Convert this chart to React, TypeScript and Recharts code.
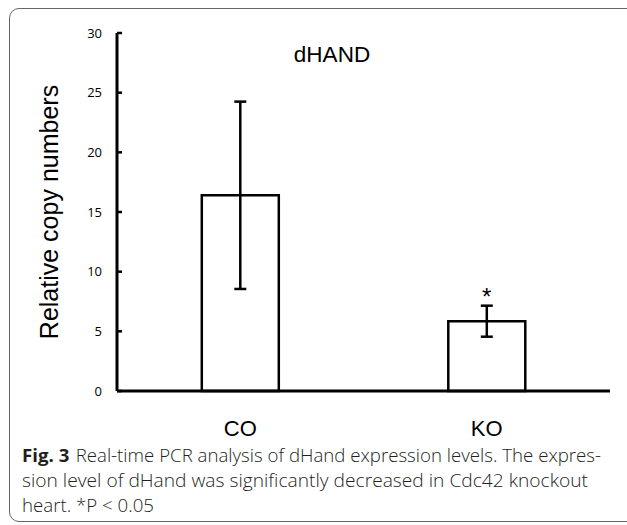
import React from 'react';
import { BarChart, Bar, XAxis, YAxis, ErrorBar, ReferenceDot } from 'recharts';

const categories = ['CO', 'KO'];
const means = [16.4, 5.85];
const errors = [7.85, 1.3];
const marks = ['', '*'];
const yTicks = [0, 5, 10, 15, 20, 25, 30];

const data = categories.map((c, i) => ({ name: c, value: means[i], err: errors[i], mark: marks[i] }));

const sans = '"Liberation Sans", Arial, sans-serif';
const capFont = '"Open Sans", "Noto Sans", sans-serif';

export default function App() {
  return (
    <div style={{ position: 'absolute', left: 0, top: 0, width: 627, height: 525, overflow: 'hidden', background: '#fff' }}>
      <div
        style={{
          position: 'absolute',
          left: 9,
          top: 8,
          width: 660,
          height: 514,
          border: '1.5px solid #666',
          borderRadius: 10,
          boxSizing: 'border-box',
        }}
      />
      <div style={{ position: 'absolute', left: 0, top: 0 }}>
        <BarChart
          width={627}
          height={440}
          data={data}
          margin={{ top: 33, right: 17, left: 57, bottom: 9 }}
          barCategoryGap="34.4%"
        >
          <XAxis
            dataKey="name"
            tickLine={false}
            axisLine={{ stroke: '#000', strokeWidth: 3 }}
            tick={{ fill: '#000', fontSize: 22, fontFamily: sans }}
            tickSize={6}
            tickMargin={23}
            height={40}
          />
          <YAxis
            type="number"
            domain={[0, 30]}
            ticks={yTicks}
            width={60}
            axisLine={{ stroke: '#000', strokeWidth: 3 }}
            tickLine={{ stroke: '#000', strokeWidth: 2.5 }}
            tickSize={-5}
            tickMargin={20}
            tick={{ fill: '#000', fontSize: 13, fontFamily: capFont }}
            interval={0}
          />
          <Bar dataKey="value" fill="#fff" stroke="#000" strokeWidth={2.5} isAnimationActive={false}>
            <ErrorBar dataKey="err" direction="y" width={6} stroke="#000" strokeWidth={2.5} isAnimationActive={false} />
          </Bar>
          {data
            .filter((d) => d.mark)
            .map((d) => (
              <ReferenceDot
                key={d.name}
                x={d.name}
                y={d.value + d.err}
                r={0}
                stroke="none"
                fill="none"
                label={{ value: d.mark, position: 'top', offset: 1, fontSize: 24, fill: '#000', fontFamily: sans }}
              />
            ))}
        </BarChart>
      </div>
      <svg width={627} height={525} style={{ position: 'absolute', left: 0, top: 0, pointerEvents: 'none' }}>
        <text x={332} y={62} textAnchor="middle" fontSize={22.5} fontFamily={sans} fill="#000">
          dHAND
        </text>
        <text
          x={58}
          y={212}
          transform="rotate(-90, 58, 212)"
          textAnchor="middle"
          fontSize={25}
          fontFamily={sans}
          fill="#000"
        >
          Relative copy numbers
        </text>
        <text x={22} y={462} fontSize={17.5} fontFamily={capFont} fontWeight={300} fill="#231f20" textLength={579} lengthAdjust="spacingAndGlyphs">
          <tspan fontWeight="bold">Fig. 3</tspan>
          <tspan dx={6}>{'Real-time PCR analysis of dHand expression levels. The expres-'}</tspan>
        </text>
        <text x={22} y={487} fontSize={17.5} fontFamily={capFont} fontWeight={300} fill="#231f20" textLength={566} lengthAdjust="spacingAndGlyphs">
          sion level of dHand was significantly decreased in Cdc42 knockout
        </text>
        <text x={22} y={512} fontSize={17.5} fontFamily={capFont} fontWeight={300} fill="#231f20" textLength={132} lengthAdjust="spacingAndGlyphs">
          heart. *P &lt; 0.05
        </text>
      </svg>
    </div>
  );
}
